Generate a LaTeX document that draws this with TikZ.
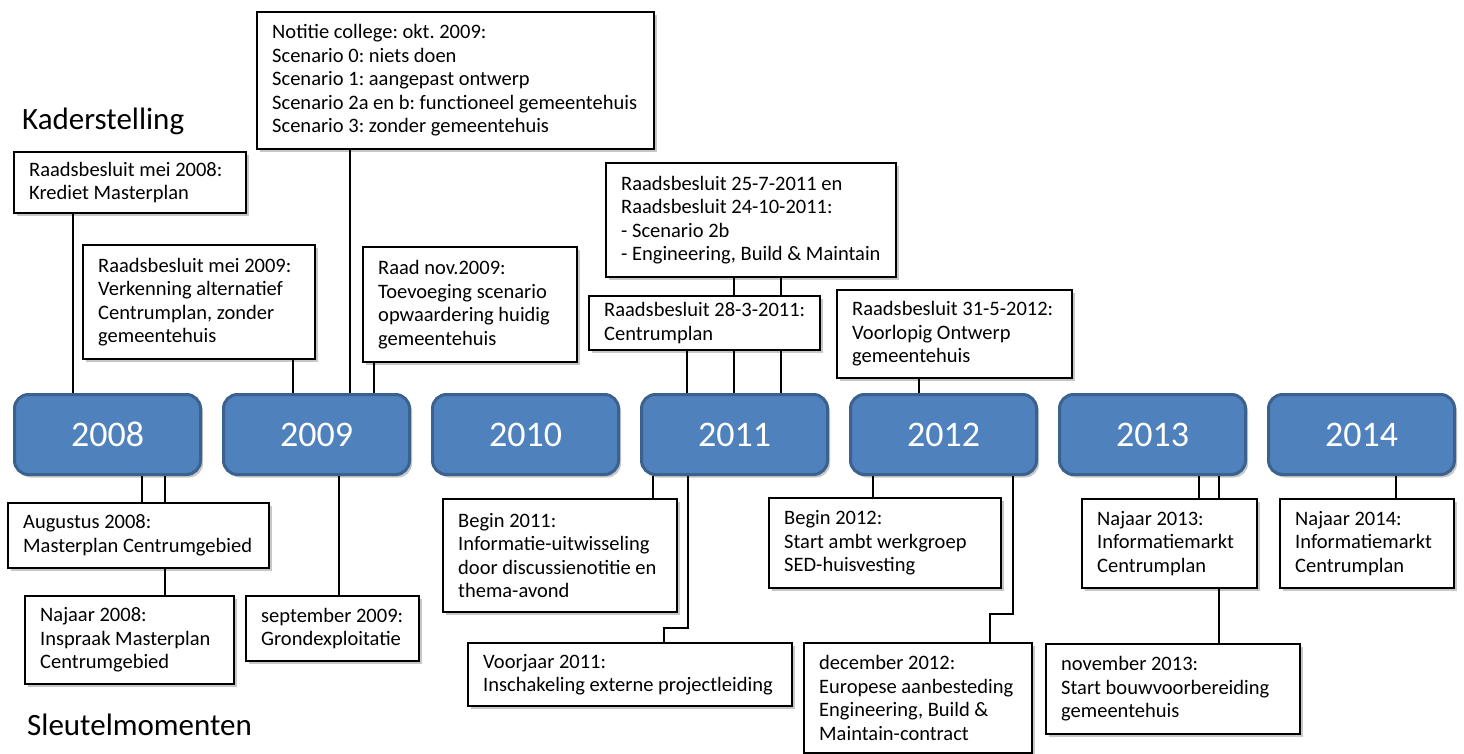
\documentclass[tikz,border=0pt]{standalone}
\usepackage{fontspec}
\setmainfont{Carlito}
\usetikzlibrary{shadows,backgrounds}
\definecolor{yfill}{HTML}{4F81BD}
\definecolor{yline}{HTML}{3B618F}
\tikzset{
 tbox/.style={draw=black, line width=1.3pt, fill=white, inner sep=0pt, outer sep=0pt,
   drop shadow={shadow xshift=2.5pt, shadow yshift=-3pt, opacity=0.22, fill=black}},
 ttext/.style={anchor=west, align=left, inner sep=0pt, font=\fontsize{20.5}{23.5}\selectfont\frenchspacing},
 ybox/.style={draw=yline, fill=yfill, line width=3pt, rounded corners=14pt,
   minimum width=186pt, minimum height=80pt, text=white, inner sep=0pt,
   font=\fontsize{36}{40}\selectfont,
   drop shadow={shadow xshift=2.5pt, shadow yshift=-3pt, opacity=0.22, fill=black}},
 conn/.style={draw=black, line width=1.3pt},
 titletext/.style={anchor=base west, inner sep=0pt, font=\fontsize{31}{36}\selectfont}
}
\newcommand\tbx[6]{%
  \node[tbox, minimum width=#4, minimum height=#5, anchor=north west] (#1) at (#2,#3) {};
  \node[ttext] (#1t) at ([xshift=15pt]#1.west) {#6};}
\begin{document}
\begin{tikzpicture}[x=1pt,y=-1pt]
\useasboundingbox (0,0) rectangle (1464,754);

% titles
\node[titletext] (kader) at (22,130) {Kaderstelling};
\node[titletext] (sleutel) at (27,735) {Sleutelmomenten};

% year boxes
\node[ybox] (y2008) at (107.5,434.5) {2008};
\node[ybox] (y2009) at (316.5,434.5) {2009};
\node[ybox] (y2010) at (525.5,434.5) {2010};
\node[ybox] (y2011) at (734.5,434.5) {2011};
\node[ybox] (y2012) at (943.5,434.5) {2012};
\node[ybox] (y2013) at (1152.5,434.5) {2013};
\node[ybox] (y2014) at (1361.5,434.5) {2014};

% upper boxes
\tbx{A}{14}{152}{232}{61}{Raadsbesluit mei 2008:\\Krediet Masterplan}
\tbx{B}{83}{245}{232}{114}{Raadsbesluit mei 2009:\\Verkenning alternatief\\Centrumplan, zonder\\gemeentehuis}
\tbx{C}{257}{12}{397}{137}{Notitie college: okt. 2009:\\Scenario 0: niets doen\\Scenario 1: aangepast ontwerp\\Scenario 2a en b: functioneel gemeentehuis\\Scenario 3: zonder gemeentehuis}
\tbx{D}{363}{247}{214}{115}{Raad nov.2009:\\Toevoeging scenario\\opwaardering huidig\\gemeentehuis}
\tbx{E}{606}{163}{290}{114}{Raadsbesluit 25-7-2011 en\\Raadsbesluit 24-10-2011:\\- Scenario 2b\\- Engineering, Build \& Maintain}
\tbx{F}{589}{296}{231}{54}{Raadsbesluit 28-3-2011:\\Centrumplan}
\tbx{G}{837}{290}{235}{88}{Raadsbesluit 31-5-2012:\\Voorlopig Ontwerp\\gemeentehuis}

% lower boxes
\tbx{H}{8}{503}{261}{65}{Augustus 2008:\\Masterplan Centrumgebied}
\tbx{I}{25}{596}{209}{88}{Najaar 2008:\\Inspraak Masterplan\\Centrumgebied}
\tbx{J}{246}{596}{173}{65}{september 2009:\\Grondexploitatie}
\tbx{K}{443}{499}{234}{113}{Begin 2011:\\Informatie-uitwisseling\\door discussienotitie en\\thema-avond}
\tbx{L}{468}{643}{324}{63}{Voorjaar 2011:\\Inschakeling externe projectleiding}
\tbx{M}{769}{498}{232}{90}{Begin 2012:\\Start ambt werkgroep\\SED-huisvesting}
\tbx{N}{804}{643}{228}{110}{december 2012:\\Europese aanbesteding\\Engineering, Build \&\\Maintain-contract}
\tbx{O}{1046}{644}{254}{90}{november 2013:\\Start bouwvoorbereiding\\gemeentehuis}
\tbx{P}{1082}{499}{175}{89}{Najaar 2013:\\Informatiemarkt\\Centrumplan}
\tbx{Q}{1280}{499}{174}{89}{Najaar 2014:\\Informatiemarkt\\Centrumplan}

% connectors
\begin{scope}[on background layer]
\fill[white] (0,0) rectangle (1464,754);
\draw[conn] (73,0 |- A.south) -- (73,0 |- y2008.north);
\draw[conn] (293,0 |- B.south) -- (293,0 |- y2009.north);
\draw[conn] (350,0 |- C.south) -- (350,0 |- y2009.north);
\draw[conn] (374,0 |- D.south) -- (374,0 |- y2009.north);
\draw[conn] (734,0 |- E.south) -- (734,0 |- y2011.north);
\draw[conn] (781,0 |- E.south) -- (781,0 |- y2011.north);
\draw[conn] (687,0 |- F.south) -- (687,0 |- y2011.north);
\draw[conn] (919,0 |- G.south) -- (919,0 |- y2012.north);
\draw[conn] (142,0 |- y2008.south) -- (142,0 |- H.north);
\draw[conn] (165,0 |- y2008.south) -- (165,0 |- I.north);
\draw[conn] (339,0 |- y2009.south) -- (339,0 |- J.north);
\draw[conn] (653,0 |- y2011.south) -- (653,0 |- K.north);
\draw[conn] (688,0 |- y2011.south) |- (664,628) -- (664,0 |- L.north);
\draw[conn] (873,0 |- y2012.south) -- (873,0 |- M.north);
\draw[conn] (1013,0 |- y2012.south) |- (990,614) -- (990,0 |- N.north);
\draw[conn] (1199,0 |- y2013.south) -- (1199,0 |- P.north);
\draw[conn] (1219,0 |- y2013.south) -- (1219,0 |- O.north);
\draw[conn] (1396,0 |- y2014.south) -- (1396,0 |- Q.north);
\end{scope}
\end{tikzpicture}
\end{document}
